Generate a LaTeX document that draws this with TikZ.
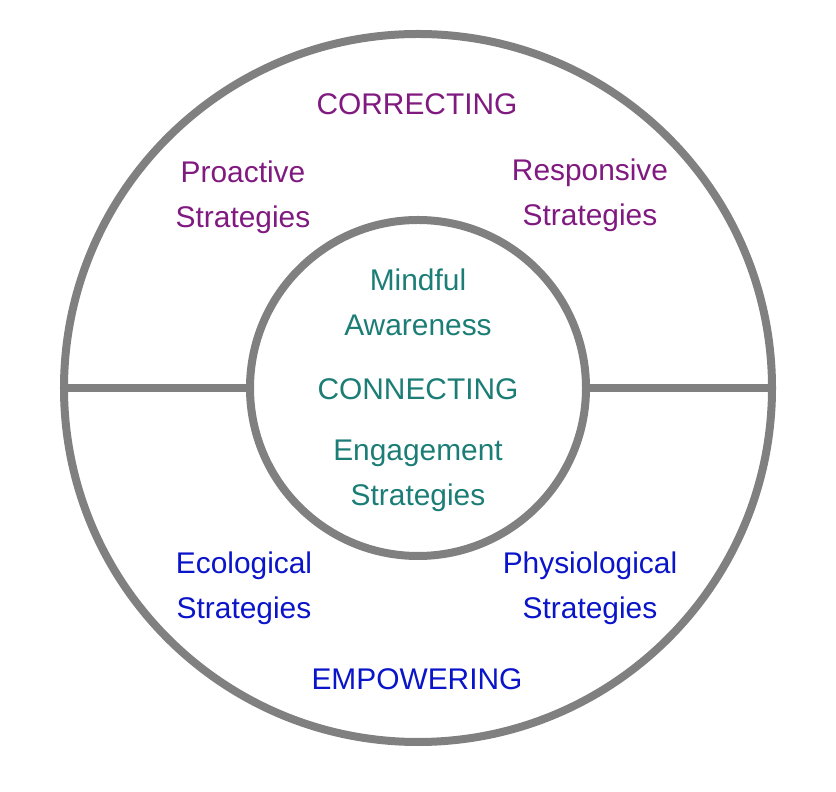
\documentclass[tikz,border=0pt]{standalone}
\usepackage{fontspec}
\setmainfont{Liberation Sans}
\definecolor{ringgray}{HTML}{808080}
\definecolor{correctcol}{HTML}{801A80}
\definecolor{connectcol}{HTML}{1B7D75}
\definecolor{empowercol}{HTML}{0A14C8}

\begin{document}
\begin{tikzpicture}[x=1bp, y=1bp,
    ring/.style={circle, draw=ringgray, line width=8bp, outer sep=0pt, inner sep=0pt},
    lbl/.style={align=center, inner sep=0pt, font=\fontsize{30}{45}\selectfont}]
      \useasboundingbox (0,0) rectangle (836,792);
      \node (outer) [ring, minimum size=708bp] at (418,404) {};
      \node (inner) [ring, minimum size=336bp] at (418,404) {};
      \draw [ringgray, line width=8bp] (outer.west) -- (inner.west);
      \draw [ringgray, line width=8bp] (inner.east) -- (outer.east);
      % top half
      \node (correcting) [lbl, correctcol] at (417,688) {CORRECTING};
      \node (proactive) [lbl, correctcol] at (243,594.5) {Proactive\\Strategies};
      \node (responsive) [lbl, correctcol] at (590,596.5) {Responsive\\Strategies};
      % centre
      \node (mindful) [lbl, connectcol] at (418,489.5) {Mindful\\Awareness};
      \node (connecting) [lbl, connectcol] at (418,403) {CONNECTING};
      \node (engagement) [lbl, connectcol] at (418,316.5) {Engagement\\Strategies};
      % bottom half
      \node (ecological) [lbl, empowercol] at (244,203.5) {Ecological\\Strategies};
      \node (physiological) [lbl, empowercol] at (590,203.5) {Physiological\\Strategies};
      \node (empowering) [lbl, empowercol] at (417,113) {EMPOWERING};
\end{tikzpicture}
\end{document}
